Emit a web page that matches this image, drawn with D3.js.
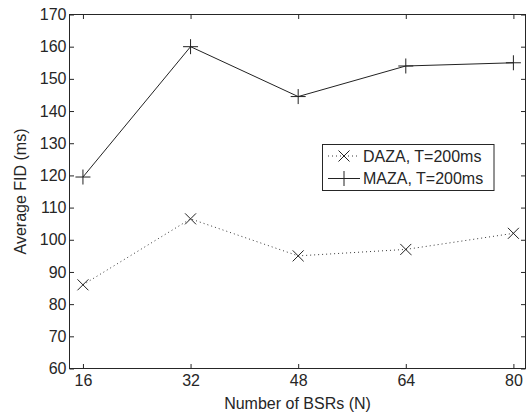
<!DOCTYPE html>
<html><head><meta charset="utf-8">
<script src="https://cdn.jsdelivr.net/npm/d3@7"></script>
<style>
html,body{margin:0;padding:0;background:#fff;}
svg{display:block;}
text{font-family:"Liberation Sans",Arial,Helvetica,sans-serif;fill:#262626;}
</style></head>
<body>
<script>
const xValues = [16, 32, 48, 64, 80];
const dazaValues = [86, 106.5, 95, 97, 102];
const mazaValues = [119.5, 160, 144.5, 154, 155];
const yTicks = [60, 70, 80, 90, 100, 110, 120, 130, 140, 150, 160, 170];
const seriesNames = ["DAZA, T=200ms", "MAZA, T=200ms"];
const xLabel = "Number of BSRs (N)";
const yLabel = "Average FID (ms)";

const W = 529, H = 416;
const L = 69.5, R = 525.5, T = 14.5, B = 368.5;
const svg = d3.select("body").append("svg").attr("width", W).attr("height", H);

const x = d3.scaleLinear().domain([14, 81.8]).range([L, R]);
const y = d3.scaleLinear().domain([60, 170]).range([B, T]);
const ink = "#262626";
const fs = 16;

// frame
svg.append("rect").attr("x", L).attr("y", T).attr("width", R - L).attr("height", B - T)
  .attr("fill", "none").attr("stroke", ink).attr("stroke-width", 1);

// axes with inward ticks
const tickLen = 4.5;
const xAxis = d3.axisBottom(x).tickValues(xValues).tickSizeInner(-tickLen).tickSizeOuter(0).tickPadding(6);
const gx = svg.append("g").attr("transform", `translate(0,${B})`).call(xAxis);
const xTop = d3.axisTop(x).tickValues(xValues).tickSizeInner(-tickLen).tickSizeOuter(0).tickFormat("");
const gxt = svg.append("g").attr("transform", `translate(0,${T})`).call(xTop);
const yAxis = d3.axisLeft(y).tickValues(yTicks).tickSizeInner(-tickLen).tickSizeOuter(0).tickPadding(3);
const gy = svg.append("g").attr("transform", `translate(${L},0)`).call(yAxis);
const yRight = d3.axisRight(y).tickValues(yTicks).tickSizeInner(-tickLen).tickSizeOuter(0).tickFormat("");
const gyr = svg.append("g").attr("transform", `translate(${R},0)`).call(yRight);
[gx, gxt, gy, gyr].forEach(g => {
  g.select(".domain").remove();
  g.selectAll(".tick line").attr("stroke", ink);
  g.selectAll(".tick text").attr("font-size", fs).attr("fill", ink)
    .attr("font-family", '"Liberation Sans",Arial,Helvetica,sans-serif');
});
gx.selectAll(".tick text").attr("dy", "0.71em");

// axis labels
svg.append("text").attr("x", (L + R) / 2).attr("y", 409).attr("text-anchor", "middle")
  .attr("font-size", fs).text(xLabel);
svg.append("text").attr("transform", `translate(26,${(T + B) / 2}) rotate(-90)`)
  .attr("text-anchor", "middle").attr("font-size", fs).text(yLabel);

const line = d3.line().x((d, i) => x(xValues[i])).y(d => y(d));

// DAZA dotted line with x markers
svg.append("path").datum(dazaValues).attr("d", line).attr("fill", "none")
  .attr("stroke", "#222").attr("stroke-width", 0.9).attr("stroke-dasharray", "1,3");
// MAZA solid line
svg.append("path").datum(mazaValues).attr("d", line).attr("fill", "none")
  .attr("stroke", "#222").attr("stroke-width", 1);

function xMarker(g, cx, cy, r) {
  g.append("path").attr("d", `M${cx - r},${cy - r}L${cx + r},${cy + r}M${cx - r},${cy + r}L${cx + r},${cy - r}`)
    .attr("stroke", "#222").attr("stroke-width", 1).attr("fill", "none");
}
function plusMarker(g, cx, cy, r) {
  g.append("path").attr("d", `M${cx - r},${cy}L${cx + r},${cy}M${cx},${cy - r}L${cx},${cy + r}`)
    .attr("stroke", "#222").attr("stroke-width", 1).attr("fill", "none");
}
const mk = svg.append("g");
dazaValues.forEach((v, i) => xMarker(mk, x(xValues[i]), y(v), 5.5));
mazaValues.forEach((v, i) => plusMarker(mk, x(xValues[i]), y(v), 7.5));

// legend
const lg = svg.append("g");
const lx0 = 322.5, ly0 = 144.5, lx1 = 494, ly1 = 190.5;
lg.append("rect").attr("x", lx0).attr("y", ly0).attr("width", lx1 - lx0).attr("height", ly1 - ly0)
  .attr("fill", "#fff").attr("stroke", ink).attr("stroke-width", 1);
const rowY = [156, 178.5];
lg.append("line").attr("x1", 328).attr("x2", 360).attr("y1", rowY[0]).attr("y2", rowY[0])
  .attr("stroke", "#222").attr("stroke-width", 0.9).attr("stroke-dasharray", "1,3");
xMarker(lg, 344, rowY[0], 5.5);
lg.append("line").attr("x1", 328).attr("x2", 360).attr("y1", rowY[1]).attr("y2", rowY[1])
  .attr("stroke", "#222").attr("stroke-width", 1);
plusMarker(lg, 344, rowY[1], 7.5);
seriesNames.forEach((n, i) => {
  lg.append("text").attr("x", 363).attr("y", rowY[i]).attr("dy", "0.36em")
    .attr("font-size", fs).text(n);
});
</script>
</body></html>
